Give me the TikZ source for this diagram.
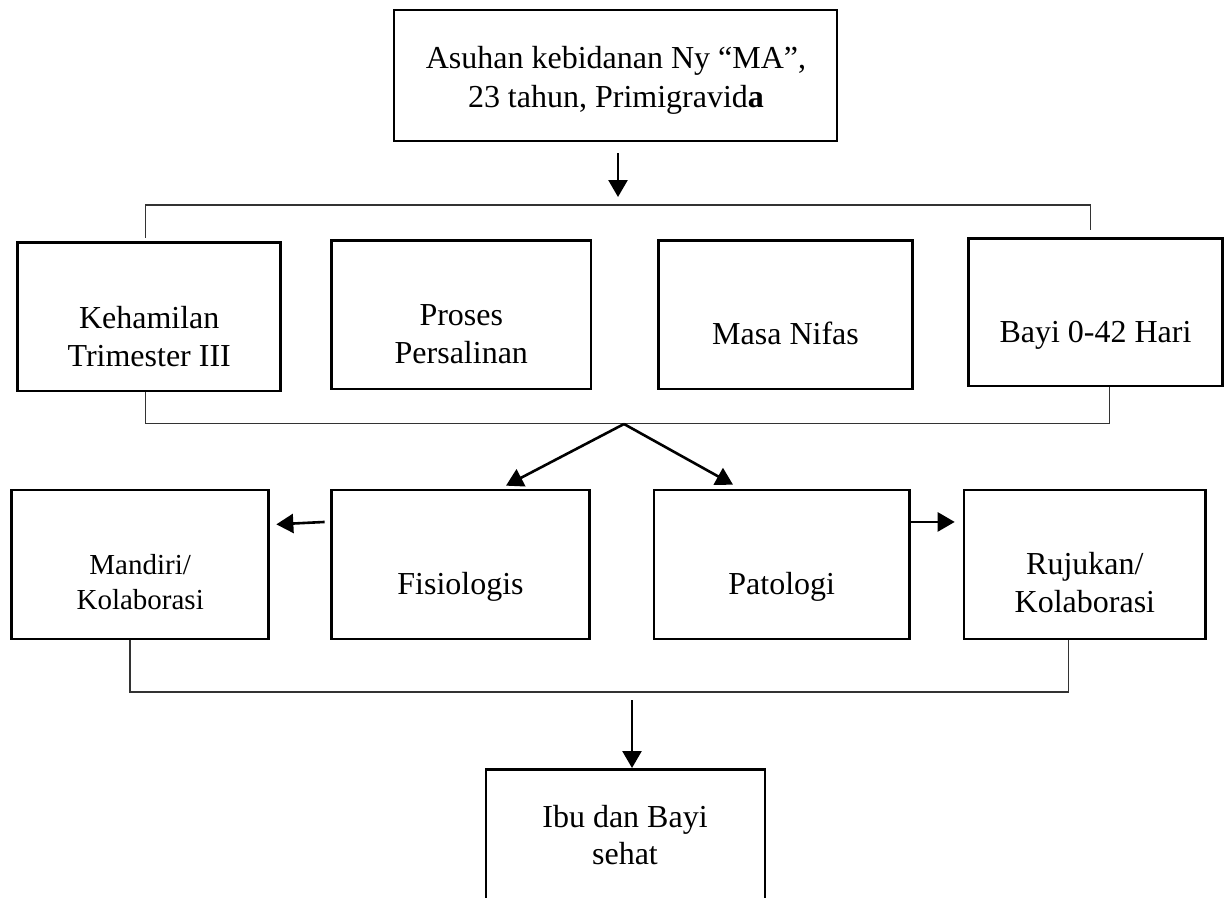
\documentclass[tikz,border=0pt]{standalone}
\usepackage{fontspec}
\setmainfont{Liberation Serif}
\usetikzlibrary{arrows.meta}
\begin{document}
\begin{tikzpicture}[x=1pt,y=-1pt,
  box/.style={draw, line width=2.7pt, rectangle, inner sep=0pt},
  txt/.style={font=\fontsize{32}{37.5}\selectfont, align=center, anchor=base, inner sep=0pt},
  txts/.style={font=\fontsize{29}{35}\selectfont, align=center, anchor=base, inner sep=0pt},
  thinline/.style={line width=1.2pt, draw=black!80},
  arr/.style={line width=2.6pt, -{Triangle[length=17pt,width=19pt]}}
]
\useasboundingbox (0,0) rectangle (1226,897);
\clip (0,0) rectangle (1226,897);

% boxes
\node[box, minimum width=443pt, minimum height=131pt] (top) at (615.5,75.5) {};
\node[box, minimum width=263pt, minimum height=148.7pt] (k1) at (149.2,316.6) {};
\node[box, minimum width=259.3pt, minimum height=148.3pt] (k2) at (461.3,314.8) {};
\node[box, minimum width=254.4pt, minimum height=148.3pt] (k3) at (785.5,314.8) {};
\node[box, minimum width=254.4pt, minimum height=147.7pt] (k4) at (1095.5,312.2) {};
\node[box, minimum width=257pt, minimum height=149pt] (m1) at (140.2,564.5) {};
\node[box, minimum width=257.6pt, minimum height=149pt] (m2) at (460.5,564.5) {};
\node[box, minimum width=255.3pt, minimum height=149pt] (m3) at (781.7,564.5) {};
\node[box, minimum width=241.7pt, minimum height=149pt] (m4) at (1084.9,564.5) {};
\node[box, minimum width=279pt, minimum height=200pt, anchor=north] (ibu) at (625.5,768) {};

% texts (base = baseline of the last line)
\node[txt, font=\fontsize{32}{39}\selectfont] (t0) at (616,107) {Asuhan kebidanan Ny “MA”,\\23 tahun, Primigravid\textbf{a}};
\node[txt] (tk1) at (149.2,366) {Kehamilan\\Trimester III};
\node[txt] (tk2) at (461.3,363.3) {Proses\\Persalinan};
\node[txt] (tk3) at (785.5,344) {Masa Nifas};
\node[txt] (tk4) at (1095.5,342.7) {Bayi 0-42 Hari};
\node[txts] (tm1) at (140.2,609) {Mandiri/\\Kolaborasi};
\node[txt] (tm2) at (460.5,594) {Fisiologis};
\node[txt] (tm3) at (781.7,594) {Patologi};
\node[txt] (tm4) at (1084.9,612.3) {Rujukan/\\Kolaborasi};
\node[txt, font=\fontsize{32}{37}\selectfont] (tibu) at (625,864.3) {Ibu dan Bayi\\sehat};

% connector coordinates
\coordinate (a0e) at (618,197);
\coordinate (tbL) at (145.7,205);
\coordinate (tbR) at (1090.7,205);
\coordinate (tbLd) at (145.7,237.7);
\coordinate (tbRd) at (1090.7,230);
\coordinate (bbL) at (145.7,423.5);
\coordinate (bbR) at (1109.3,423.5);
\coordinate (junc) at (624,424);
\coordinate (bb2L) at (130,692);
\coordinate (bb2R) at (1068.7,692);
\coordinate (a5s) at (632,700);

% connectors
\draw[arr] ([xshift=2.5pt,yshift=-11pt]top.south) -- (a0e);
\draw[thinline] (tbLd) -- (tbL) -- (tbR) -- (tbRd);
\draw[thinline] ([xshift=-3.5pt]k1.south) -- (bbL) -- (bbR) -- ([xshift=13.8pt]k4.south);
\draw[arr] (junc) -- ([xshift=45.5pt,yshift=3pt]m2.north);
\draw[arr] (junc) -- ([xshift=-48.7pt,yshift=4pt]m3.north);
\draw[arr] ([xshift=-5.7pt,yshift=-33.3pt]m2.north west) -- ([xshift=6.3pt,yshift=-35.7pt]m1.north east);
\draw[arr] ([yshift=-33.3pt]m3.north east) -- ([xshift=-8pt,yshift=-33.3pt]m4.north west);
\draw[thinline] ([xshift=-10.2pt]m1.south) -- (bb2L) -- (bb2R) -- ([xshift=-16.2pt]m4.south);
\draw[arr] (a5s) -- ([xshift=6.5pt]ibu.north);
\end{tikzpicture}
\end{document}
